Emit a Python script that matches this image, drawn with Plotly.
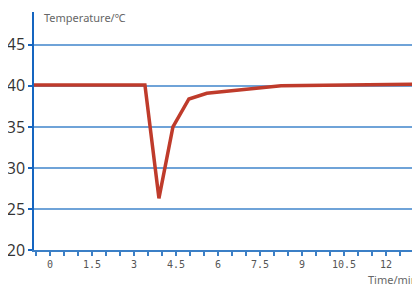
import plotly.graph_objects as go

time_min = [-0.57, 3.39, 3.89, 4.39, 4.96, 5.6, 8.25, 13.3]
temperature = [40.1, 40.1, 26.3, 35.0, 38.4, 39.1, 40.0, 40.2]
x_ticks = [0, 1.5, 3, 4.5, 6, 7.5, 9, 10.5, 12]
x_tick_labels = ["0", "1.5", "3", "4.5", "6", "7.5", "9", "10.5", "12"]
y_ticks = [20, 25, 30, 35, 40, 45]

fig = go.Figure()
fig.add_trace(go.Scatter(x=time_min, y=temperature, mode="lines",
                         line=dict(color="#bf3b2b", width=3.5), hoverinfo="skip"))

fig.add_shape(type="line", xref="paper", x0=0, x1=1, yref="y", y0=45, y1=45,
              line=dict(color="#1f5ea8", width=1.3), layer="below")

fig.update_layout(
    width=420, height=286,
    margin=dict(l=26, r=8, t=4, b=44),
    paper_bgcolor="white", plot_bgcolor="white",
    showlegend=False,
    xaxis=dict(range=[-0.57, 13.21], tickvals=x_ticks, ticktext=x_tick_labels,
               automargin=False,
               showgrid=False, zeroline=False,
               showline=True, linecolor="#3b7fc6", linewidth=1.5,
               ticks="outside", ticklen=4, tickcolor="#3b7fc6", tickwidth=1.5,
               minor=dict(dtick=0.5, tick0=0, ticks="outside", ticklen=4,
                          tickcolor="#3b7fc6", tickwidth=1.5),
               tickfont=dict(family="DejaVu Sans Mono", size=10, color="#555555")),
    yaxis=dict(range=[20, 49], tickvals=y_ticks, automargin=False,
               showgrid=True, gridcolor="#6fa3d8", gridwidth=1.8,
               zeroline=False,
               showline=True, linecolor="#1565c0", linewidth=1.5,
               ticks="outside", ticklen=4, tickcolor="#1565c0", tickwidth=1.5,
               tickfont=dict(family="Open Sans", size=16, color="#333333")),
)

fig.add_annotation(text="Temperature/℃", xref="paper", yref="paper", x=0.02, y=0.975,
                   xanchor="left", yanchor="middle", showarrow=False,
                   font=dict(family="Noto Sans", size=11, color="#666666"))
fig.add_annotation(text="Time/min", xref="paper", yref="paper", x=0.997, y=-0.125,
                   xanchor="right", yanchor="middle", showarrow=False,
                   font=dict(family="Noto Sans", size=11, color="#666666"))

fig.write_html("out.html")
